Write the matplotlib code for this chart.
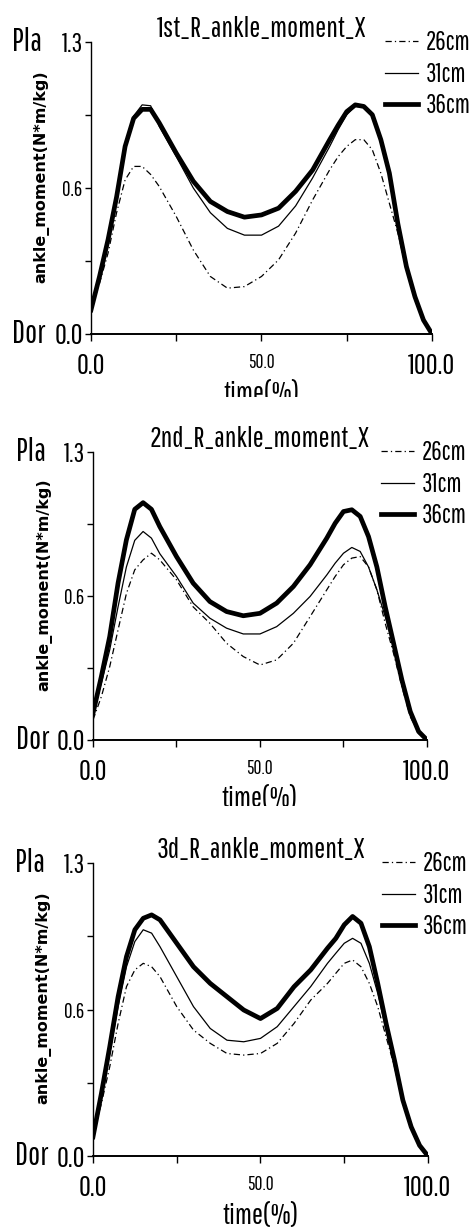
import matplotlib
matplotlib.use("Agg")
import matplotlib.pyplot as plt
from matplotlib.transforms import Bbox, TransformedBbox

# tall narrow sans first; matplotlib skips the ones that are not installed
plt.rcParams['font.family'] = ['Pathway Gothic One', 'Sofia Sans Extra Condensed', 'Roboto Condensed',
                               'Liberation Sans', 'DejaVu Sans']

# time axis (% of stance), shared by all series
time_pct = [0, 2.5, 5, 7.5, 10, 12.5, 15, 17.5, 20, 25, 30, 35, 40, 45, 50, 55,
            60, 65, 70, 72.5, 75, 77.5, 80, 82.5, 85, 87.5, 90, 92.5, 95, 97.5, 100]

labels = ['26cm', '31cm', '36cm']
titles = ['1st_R_ankle_moment_X', '2nd_R_ankle_moment_X', '3d_R_ankle_moment_X']

# 1st trial
t1_26 = [0.107, 0.226, 0.36, 0.54, 0.686, 0.746, 0.746, 0.71, 0.657, 0.523, 0.374, 0.256, 0.204, 0.211, 0.256, 0.33,
         0.449, 0.597, 0.731, 0.79, 0.835, 0.865, 0.865, 0.82, 0.716, 0.582, 0.449, 0.285, 0.152, 0.055, 0.0]
t1_31 = [0.107, 0.25, 0.41, 0.60, 0.83, 0.97, 1.02, 1.016, 0.925, 0.79, 0.65, 0.54, 0.47, 0.44, 0.44, 0.48,
         0.57, 0.695, 0.835, 0.91, 0.976, 1.013, 1.01, 0.97, 0.86, 0.71, 0.48, 0.29, 0.16, 0.058, 0.0]
t1_36 = [0.107, 0.256, 0.42, 0.61, 0.835, 0.96, 1.0, 1.0, 0.94, 0.805, 0.68, 0.59, 0.545, 0.52, 0.53, 0.56,
         0.635, 0.73, 0.865, 0.93, 0.99, 1.02, 1.013, 0.976, 0.865, 0.716, 0.49, 0.30, 0.166, 0.062, 0.0]

# 2nd trial
t2_26 = [0.09, 0.195, 0.33, 0.496, 0.66, 0.767, 0.812, 0.842, 0.812, 0.722, 0.60, 0.526, 0.436, 0.376, 0.338, 0.361,
         0.436, 0.556, 0.677, 0.737, 0.79, 0.82, 0.827, 0.78, 0.677, 0.526, 0.39, 0.24, 0.105, 0.03, 0.0]
t2_31 = [0.12, 0.256, 0.406, 0.60, 0.78, 0.90, 0.94, 0.91, 0.84, 0.737, 0.617, 0.549, 0.504, 0.478, 0.478, 0.511,
         0.571, 0.647, 0.744, 0.797, 0.842, 0.868, 0.85, 0.78, 0.677, 0.556, 0.42, 0.256, 0.113, 0.03, 0.0]
t2_36 = [0.12, 0.286, 0.466, 0.707, 0.902, 1.04, 1.07, 1.04, 0.962, 0.827, 0.707, 0.624, 0.579, 0.56, 0.571, 0.617,
         0.692, 0.79, 0.91, 0.977, 1.03, 1.038, 1.008, 0.917, 0.78, 0.60, 0.436, 0.27, 0.128, 0.038, 0.0]

# 3rd trial
t3_26 = [0.085, 0.233, 0.396, 0.588, 0.752, 0.826, 0.855, 0.84, 0.796, 0.663, 0.559, 0.50, 0.455, 0.448, 0.455, 0.50,
         0.588, 0.692, 0.766, 0.811, 0.855, 0.87, 0.84, 0.766, 0.663, 0.529, 0.396, 0.233, 0.122, 0.043, 0.0]
t3_31 = [0.085, 0.262, 0.455, 0.663, 0.84, 0.952, 1.004, 0.989, 0.929, 0.796, 0.663, 0.566, 0.514, 0.507, 0.522, 0.574,
         0.663, 0.752, 0.855, 0.90, 0.944, 0.966, 0.944, 0.855, 0.722, 0.559, 0.41, 0.24, 0.122, 0.043, 0.0]
t3_36 = [0.085, 0.277, 0.485, 0.707, 0.885, 1.004, 1.055, 1.07, 1.048, 0.944, 0.84, 0.766, 0.707, 0.648, 0.61, 0.655,
         0.751, 0.826, 0.922, 0.966, 1.026, 1.063, 1.033, 0.929, 0.766, 0.588, 0.425, 0.248, 0.129, 0.047, 0.0]

trials = [(t1_26, t1_31, t1_36), (t2_26, t2_31, t2_36), (t3_26, t3_31, t3_36)]

yticks = [0.0, 0.325, 0.65, 0.975, 1.3]
ytick_labels = ['0.0', '', '0.6', '', '1.3']
xticks = [0, 25, 50, 75, 100]
xtick_labels = ['0.0', '', '50.0', '', '100.0']

styles = [dict(color='black', lw=0.9, ls=(0, (5, 2.5, 1, 2.5))),
          dict(color='black', lw=0.9, ls='-'),
          dict(color='black', lw=3.4, ls='-')]

# axes rectangles in figure fraction, and where the screenshot cut the xlabel
rects = [[0.1924, 0.7287, 0.7209, 0.2372],
         [0.1966, 0.3989, 0.7061, 0.2342],
         [0.1966, 0.0609, 0.7082, 0.2380]]
label_cut = [1 - 397 / 1231, 1 - 806 / 1231, None]

fig = plt.figure(figsize=(4.73, 12.31), dpi=100)

for k in range(3):
    ax = fig.add_axes(rects[k])
    for series, lab, st in zip(trials[k], labels, styles):
        ax.plot(time_pct, series, label=lab, **st)

    ax.set_xlim(0, 100)
    ax.set_ylim(0, 1.3)
    ax.spines['top'].set_visible(False)
    ax.spines['right'].set_visible(False)
    ax.spines['left'].set_linewidth(1.0)
    ax.spines['bottom'].set_linewidth(1.4)

    ax.set_yticks(yticks)
    ax.set_yticklabels(ytick_labels)
    ax.set_xticks(xticks)
    ax.set_xticklabels(xtick_labels)
    ax.tick_params(axis='y', direction='out', length=4, width=1, pad=2)
    ax.tick_params(axis='x', direction='out', length=5, width=1, pad=9)
    ysizes = [21, 14, 15, 14, 19]
    for t, s in zip(ax.get_yticklabels(), ysizes):
        t.set_fontsize(s)
    xsizes = [21, 14, 14, 14, 21]
    for t, s in zip(ax.get_xticklabels(), xsizes):
        t.set_fontsize(s)

    ax.set_title(titles[k], fontsize=21, pad=3)
    ax.set_ylabel('ankle_moment(N*m/kg)', family='DejaVu Sans', fontsize=11.5, fontweight='bold')
    ax.yaxis.set_label_coords(-0.123, 0.54)
    ax.set_xlabel('time(%)', fontsize=21, va='top')
    ax.xaxis.set_label_coords(0.5, -0.16)
    if label_cut[k] is not None:
        box = TransformedBbox(Bbox([[0, label_cut[k]], [1, 1]]), fig.transFigure)
        ax.xaxis.label.set_clip_box(box)
        ax.xaxis.label.set_clip_on(True)

    tr = ax.get_yaxis_transform()
    ax.text(-0.232, 1.3, 'Pla', transform=tr, ha='left', va='center', fontsize=23)
    ax.text(-0.232, 0.0, 'Dor', transform=tr, ha='left', va='center', fontsize=23)

    ax.legend(loc='upper left', bbox_to_anchor=(0.862, 1.04), frameon=False, fontsize=18.5,
              borderpad=0, borderaxespad=0, handlelength=1.3, handletextpad=0.3,
              labelspacing=0.25)

plt.savefig('out.png', dpi=100)
